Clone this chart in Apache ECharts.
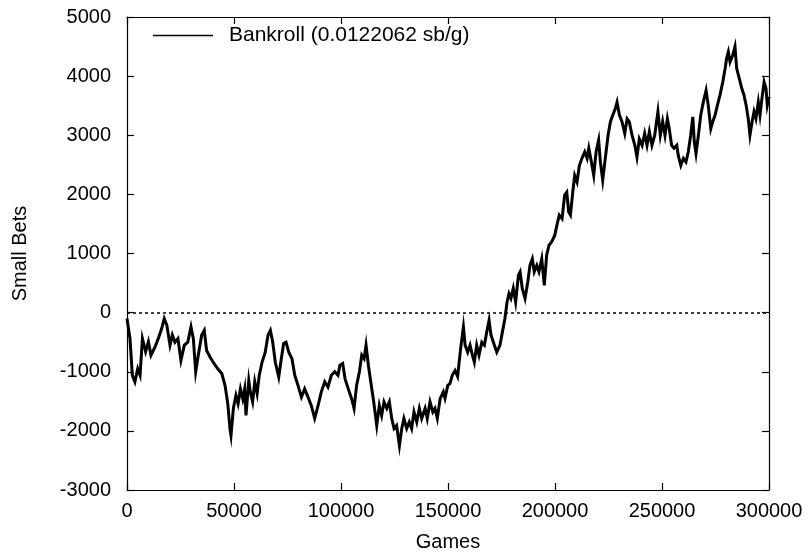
<!DOCTYPE html>
<html>
<head>
<meta charset="utf-8">
<title>Bankroll</title>
<script src="https://cdn.jsdelivr.net/npm/echarts@6/dist/echarts.min.js"></script>
<style>
  html, body { margin: 0; padding: 0; background: #fff; }
  #chart { width: 812px; height: 558px; }
</style>
</head>
<body>
<div id="chart"></div>
<script>
// Games played (x) and running bankroll in small bets (y)
const games = [
  0, 1400, 2500, 3700, 5000, 6100, 7200, 8700, 10000, 11200, 13100, 14600, 16200, 17400, 18600,
  20100, 21200, 22400, 23800, 25200, 26800, 28400, 29900, 31000, 32100, 33300, 34900, 36100, 37200,
  38800, 40300, 42400, 44300, 45800, 47100, 48100, 48600, 49700, 50900, 51900, 53000, 54100, 55000,
  55600, 56900, 57600, 58700, 59700, 60800, 61800, 63100, 64600, 65900, 67000, 68100, 69300, 70900,
  72100, 73200, 74300, 75600, 77100, 78400, 79900, 81500, 83000, 84600, 86100, 87700, 89300, 90800,
  92400, 93900, 95500, 97100, 98600, 99500, 100800, 101900, 103400, 105000, 106100, 107300, 108600,
  109700, 110800, 111700, 112800, 113900, 115100, 115900, 116700, 117900, 119000, 120100, 121400,
  122600, 123700, 124800, 126000, 127300, 128400, 129400, 130700, 131900, 133000, 134100, 135400,
  136600, 137700, 139300, 140300, 141600, 142900, 143900, 145000, 146300, 147800, 148600, 149900,
  150900, 152000, 153300, 154500, 155200, 156100, 157200, 158000, 159200, 160300, 161400, 162300,
  163400, 164500, 165800, 167000, 168100, 169200, 170100, 171200, 172800, 174300, 175400, 176600,
  177600, 178500, 179400, 180500, 181600, 182900, 183700, 184700, 186000, 187300, 188300, 189400,
  190300, 191500, 192500, 193800, 195000, 196100, 197200, 198500, 199900, 200900, 202000, 203300,
  204500, 205500, 206400, 207200, 208300, 209200, 210300, 211400, 212600, 213900, 215000, 215800,
  217000, 218100, 219200, 220400, 221200, 222300, 223500, 224800, 225900, 227000, 228200, 229000,
  230100, 231300, 232600, 233700, 234700, 236000, 237300, 238300, 239400, 240700, 241900, 243000,
  244100, 245300, 246600, 248100, 249200, 250300, 251400, 252500, 253400, 254500, 255600, 256900,
  257600, 258800, 260000, 261200, 262300, 263400, 264400, 265100, 265900, 267000, 268100, 269300,
  270600, 271600, 272800, 273700, 274800, 275900, 277100, 278400, 279500, 280200, 281000, 281800,
  283000, 284100, 284900, 286100, 287300, 288300, 289300, 290300, 291100, 292100, 293000, 293900,
  295000, 295800, 296700, 297700, 298600, 299200, 300000
];

const bankroll = [
  -100, -440, -1060, -1170, -950, -1060, -440, -660, -490, -720, -580, -440, -270, -100, -210,
  -550, -380, -500, -440, -810, -550, -500, -240, -440, -1000, -720, -380, -300, -640,
  -750, -840, -950, -1030, -1230, -1540, -1960, -2080, -1620, -1400, -1540, -1290, -1460, -1290,
  -1740, -1150, -1340, -1510, -1170, -1370, -1060, -840, -670, -380, -300, -500, -840, -1090,
  -780, -520, -500, -670, -780, -1060, -1230, -1430, -1290, -1430, -1570, -1790, -1570, -1340,
  -1170, -1260, -1060, -1000, -1060, -890, -860, -1120, -1290, -1460, -1620, -1230, -1000,
  -720, -780, -550, -890, -1170, -1460, -1680, -1910, -1570, -1740, -1510, -1620,
  -1510, -1790, -1960, -1910, -2250, -1960, -1790, -1960, -1850, -1960, -1680, -1850,
  -1620, -1790, -1620, -1790, -1510, -1680, -1620, -1790, -1460, -1340, -1450, -1230,
  -1200, -1060, -980, -1080, -840, -550, -240, -550, -670, -550, -720, -840,
  -550, -720, -500, -550, -330, -130, -380, -500, -670, -550, -330, -100,
  180, 320, 240, 410, 180, 630, 690, 410, 240, 520, 800, 910,
  690, 800, 690, 910, 460, 970, 1140, 1200, 1310, 1480, 1650, 1590,
  1990, 2040, 1700, 1650, 2040, 2320, 2210, 2490, 2610, 2720, 2610, 2780,
  2550, 2320, 2720, 2920, 2550, 2240, 2610, 3000, 3230, 3340, 3450, 3560,
  3340, 3230, 3030, 3280, 3230, 3000, 2830, 2630, 2940, 2830, 3030, 2830,
  3060, 2830, 3000, 3400, 3000, 3230, 3000, 3280, 3110, 2830, 2780, 2830,
  2660, 2490, 2610, 2550, 2720, 3000, 3310, 2890, 2690, 3000, 3340, 3560,
  3760, 3510, 3110, 3230, 3340, 3510, 3680, 3900, 4130, 4300, 4410, 4240,
  4350, 4500, 4130, 3960, 3790, 3680, 3510, 3280, 3000, 3230, 3400, 3280,
  3560, 3340, 3620, 3900, 3790, 3510, 3650
];

const xTicks = { min: 0, max: 300000, step: 50000 };
const yTicks = { min: -3000, max: 5000, step: 1000 };
const seriesName = 'Bankroll (0.0122062 sb/g)';

const FONT = '"Liberation Sans", Arial, Helvetica, sans-serif';
const FS = 20;
const points = games.map((g, i) => [g, bankroll[i]]);
const plain = v => String(v);

const chart = echarts.init(document.getElementById('chart'), null, { renderer: 'canvas' });

function baseX(pos, showLabels) {
  return {
    type: 'value', position: pos,
    min: xTicks.min, max: xTicks.max, interval: xTicks.step,
    axisLine: { show: true, onZero: false, lineStyle: { color: '#000', width: 1.2 } },
    axisTick: { show: true, inside: true, length: 7, lineStyle: { color: '#000', width: 1.2 } },
    splitLine: { show: false },
    axisLabel: { show: showLabels, color: '#000', fontSize: FS, fontFamily: FONT, margin: 11, formatter: plain }
  };
}
function baseY(pos, showLabels) {
  return {
    type: 'value', position: pos,
    min: yTicks.min, max: yTicks.max, interval: yTicks.step,
    axisLine: { show: true, onZero: false, lineStyle: { color: '#000', width: 1.2 } },
    axisTick: { show: true, inside: true, length: 7, lineStyle: { color: '#000', width: 1.2 } },
    splitLine: { show: false },
    axisLabel: { show: showLabels, color: '#000', fontSize: FS, fontFamily: FONT, margin: 16, formatter: plain }
  };
}

const xBottom = Object.assign(baseX('bottom', true), {
  name: 'Games', nameLocation: 'middle', nameGap: 42,
  nameTextStyle: { color: '#000', fontSize: FS, fontFamily: FONT }
});
const yLeft = Object.assign(baseY('left', true), {
  name: 'Small Bets', nameLocation: 'middle', nameGap: 97,
  nameTextStyle: { color: '#000', fontSize: FS, fontFamily: FONT }
});

chart.setOption({
  animation: false,
  backgroundColor: '#fff',
  grid: { left: 127, right: 43, top: 17, bottom: 68, containLabel: false },
  legend: {
    left: 153, top: 25, padding: 0,
    data: [{ name: seriesName, icon: 'rect' }],
    itemWidth: 60, itemHeight: 1.5,
    itemStyle: { color: '#000' },
    textStyle: { color: '#000', fontSize: 21, fontFamily: FONT, padding: [0, 0, 0, 11] }
  },
  xAxis: [xBottom, baseX('top', false)],
  yAxis: [yLeft, baseY('right', false)],
  series: [{
    name: seriesName,
    type: 'line',
    xAxisIndex: 0, yAxisIndex: 0,
    data: points,
    showSymbol: false,
    symbol: 'none',
    lineStyle: { color: '#000', width: 3, join: 'miter' },
    itemStyle: { color: '#000' },
    markLine: {
      silent: true,
      symbol: ['none', 'none'],
      label: { show: false },
      lineStyle: { color: '#000', type: [3, 3], width: 1.5 },
      data: [{ yAxis: 0 }]
    }
  }]
});
</script>
</body>
</html>
